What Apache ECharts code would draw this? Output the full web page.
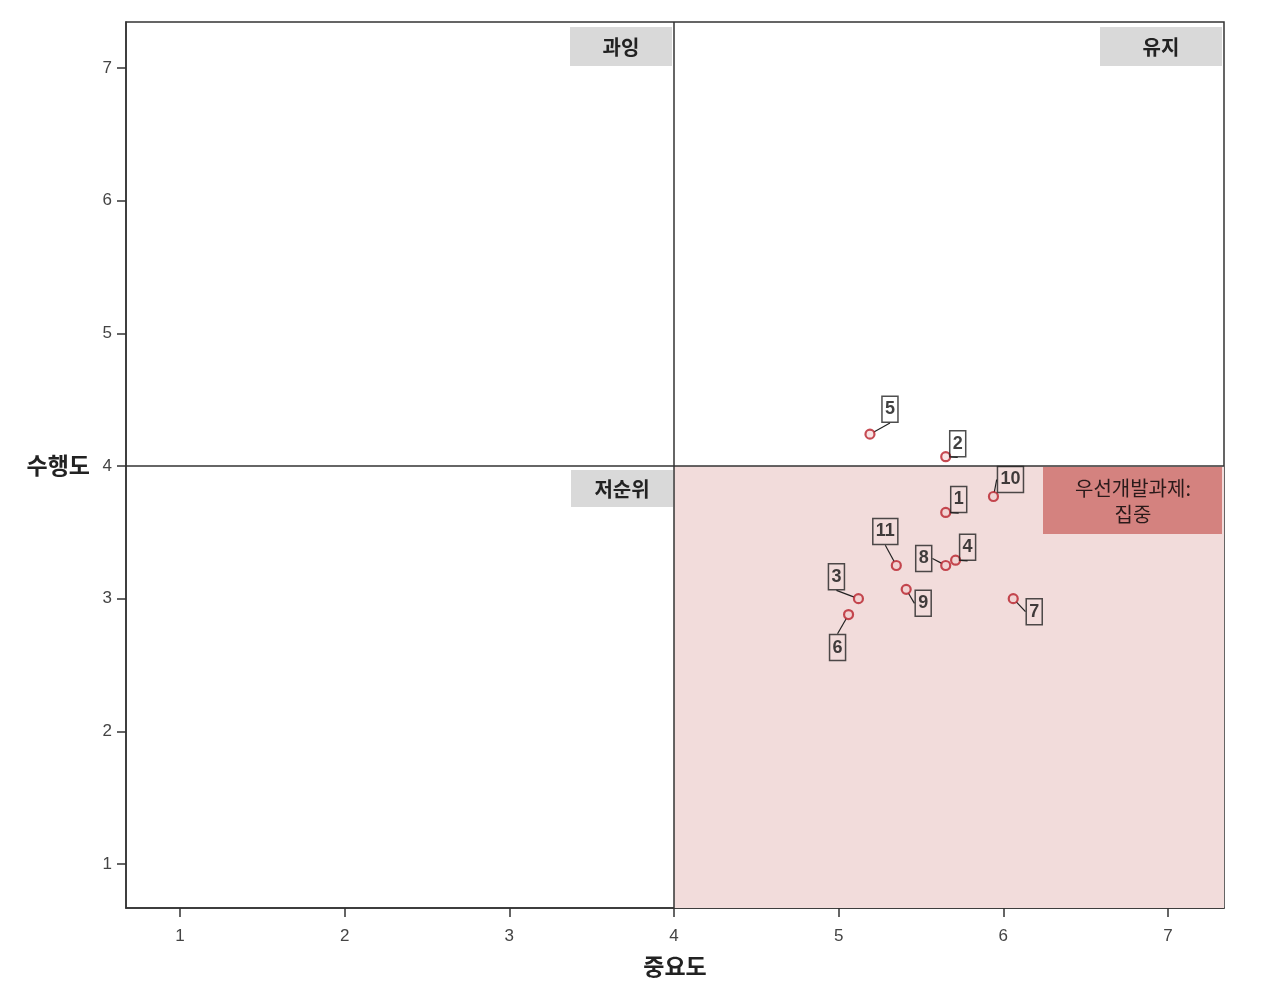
<!DOCTYPE html>
<html><head><meta charset="utf-8">
<script src="https://cdn.jsdelivr.net/npm/echarts@6/dist/echarts.min.js"></script>
<style>html,body{margin:0;padding:0;background:#fff}#c{width:1263px;height:998px}</style>
</head><body><div id="c"></div>
<script>
// Data
const ids = ['1','2','3','4','5','6','7','8','9','10','11'];
const importance = [5.65, 5.65, 5.12, 5.71, 5.19, 5.06, 6.06, 5.65, 5.41, 5.94, 5.35];
const performance = [3.65, 4.07, 3.00, 3.29, 4.24, 2.88, 3.00, 3.25, 3.07, 3.77, 3.25];
const tickValues = [1, 2, 3, 4, 5, 6, 7];
const xName = '중요도';
const yName = '수행도';
const quadrantNames = ['과잉', '유지', '저순위', '우선개발과제:\n집중'];
const xMin = 0.672, xMax = 7.34, yMin = 0.668, yMax = 7.347, cut = 4;

// label offsets (pixels) for the point labels
const labelOffsets = {
  '1': [13, -13], '2': [12, -13], '3': [-22, -22], '4': [12, -13], '5': [20, -25],
  '6': [-11, 33], '7': [21, 13], '8': [-22, -7], '9': [17, 14], '10': [17, -17], '11': [-11, -34]
};

const chart = echarts.init(document.getElementById('c'));
const pts = ids.map((id, i) => ({ value: [importance[i], performance[i]], name: id }));
const cjk = '"Noto Sans CJK KR", "Liberation Sans", sans-serif';
const lat = '"Liberation Sans", Arial, sans-serif';

chart.setOption({
  animation: false,
  grid: { left: 126, right: 39, top: 22, bottom: 90, show: true, borderColor: '#333', borderWidth: 1.5, backgroundColor: 'transparent' },
  xAxis: {
    type: 'value', min: xMin, max: xMax,
    splitLine: { show: false },
    axisLine: { show: true, lineStyle: { color: '#333', width: 1.5 } },
    axisTick: { show: true, length: 9, customValues: tickValues, lineStyle: { color: '#333', width: 1.5 } },
    axisLabel: { customValues: tickValues, margin: 20, fontSize: 17, color: '#444', fontFamily: lat },
    name: xName, nameLocation: 'middle', nameGap: 47,
    nameTextStyle: { fontSize: 23, fontWeight: 'bold', color: '#222', fontFamily: cjk }
  },
  yAxis: {
    type: 'value', min: yMin, max: yMax,
    splitLine: { show: false },
    axisLine: { show: true, lineStyle: { color: '#333', width: 1.5 } },
    axisTick: { show: true, length: 9, customValues: tickValues, lineStyle: { color: '#333', width: 1.5 } },
    axisLabel: { customValues: tickValues, margin: 14, fontSize: 17, color: '#444', fontFamily: lat },
    name: yName, nameLocation: 'middle', nameGap: 36, nameRotate: 0,
    nameTextStyle: { fontSize: 23, fontWeight: 'bold', color: '#222', fontFamily: cjk, align: 'right', verticalAlign: 'middle' }
  },
  series: [{
    type: 'scatter',
    data: pts,
    symbol: 'circle',
    symbolSize: 9,
    itemStyle: { color: 'rgba(240,200,200,0.6)', borderColor: '#b8202a', borderWidth: 2.2 },
    label: {
      show: true, position: 'inside', formatter: p => p.name,
      fontSize: 18, fontWeight: 'bold', color: '#111', fontFamily: lat, lineHeight: 20,
      borderColor: '#222', borderWidth: 1.5, padding: [4, 3, 2, 3]
    },
    labelLine: { show: true, lineStyle: { color: '#222', width: 1.2 } },
    labelLayout: function (params) {
      const id = ids[params.dataIndex];
      const o = labelOffsets[id];
      return { dx: o[0], dy: o[1] };
    },
    markArea: {
      silent: true,
      itemStyle: { color: '#f2dcdb' },
      data: [[{ coord: [cut, yMin] }, { coord: [xMax, cut] }]]
    },
    markLine: {
      silent: true, symbol: 'none', label: { show: false },
      lineStyle: { color: '#333', width: 1.5, type: 'solid' },
      data: [
        [{ coord: [cut, yMin] }, { coord: [cut, yMax] }],
        [{ coord: [xMin, cut] }, { coord: [xMax, cut] }]
      ]
    },
    z: 5
  }],
  graphic: [
    { type: 'rect', shape: { x: 570, y: 27, width: 102, height: 39 }, style: { fill: '#d9d9d9' }, z: 10 },
    { type: 'text', x: 621, y: 47, style: { text: quadrantNames[0], font: 'bold 20px ' + cjk, fill: '#222', textAlign: 'center', textVerticalAlign: 'middle' }, z: 11 },
    { type: 'rect', shape: { x: 1100, y: 27, width: 122, height: 39 }, style: { fill: '#d9d9d9' }, z: 10 },
    { type: 'text', x: 1161, y: 47, style: { text: quadrantNames[1], font: 'bold 20px ' + cjk, fill: '#222', textAlign: 'center', textVerticalAlign: 'middle' }, z: 11 },
    { type: 'rect', shape: { x: 571, y: 470, width: 102, height: 37 }, style: { fill: '#d9d9d9' }, z: 10 },
    { type: 'text', x: 622, y: 489, style: { text: quadrantNames[2], font: 'bold 20px ' + cjk, fill: '#222', textAlign: 'center', textVerticalAlign: 'middle' }, z: 11 },
    { type: 'rect', shape: { x: 1043, y: 467, width: 179, height: 67 }, style: { fill: '#d4827f' }, z: 10 },
    { type: 'text', x: 1133, y: 501, style: { text: quadrantNames[3], font: '20px ' + cjk, fill: '#2a1a1a', textAlign: 'center', textVerticalAlign: 'middle', lineHeight: 26 }, z: 11 }
  ]
});
</script></body></html>
